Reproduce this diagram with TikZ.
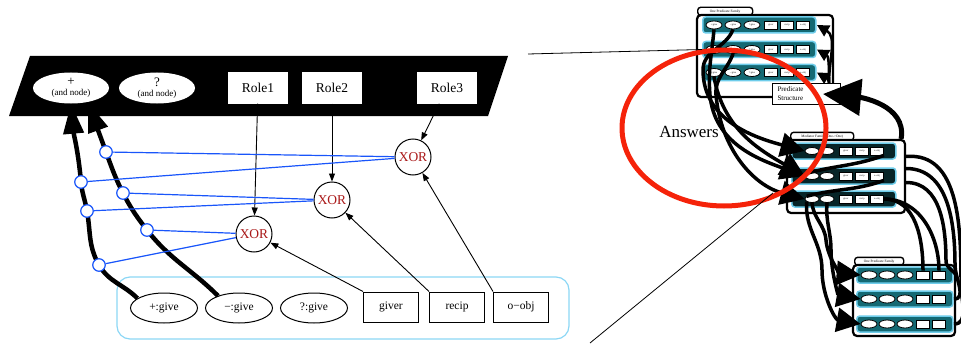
\documentclass[tikz,border=0pt]{standalone}
\usepackage{fontspec}
\setmainfont{Liberation Serif}
\usetikzlibrary{arrows.meta}
\usetikzlibrary{shapes.geometric}

\definecolor{xorred}{RGB}{170,25,25}
\definecolor{linkblue}{RGB}{25,85,250}
\definecolor{boxcyan}{RGB}{140,215,245}
\definecolor{famteal}{RGB}{20,105,115}
\definecolor{famedge}{RGB}{110,205,235}
\definecolor{ansred}{RGB}{245,35,10}

\tikzset{
	rolebox/.style={fill=white, minimum width=60pt, minimum height=31pt, inner sep=0pt, font=\fontsize{13.5}{15}\selectfont},
	andnode/.style={ellipse, fill=white, minimum width=76pt, minimum height=31pt, inner sep=0pt, align=center, font=\fontsize{13}{10}\selectfont},
	xornode/.style={circle, draw, line width=1pt, fill=white, minimum size=36pt, inner sep=0pt, text=xorred, font=\fontsize{13.5}{15}\selectfont},
	givenode/.style={ellipse, draw, line width=1pt, minimum width=67pt, minimum height=30pt, inner sep=0pt, font=\fontsize{11.5}{13}\selectfont},
	argbox/.style={draw, line width=1pt, minimum width=55pt, minimum height=30pt, inner sep=0pt, font=\fontsize{11.5}{13}\selectfont},
	hook/.style={circle, draw=linkblue, fill=white, line width=1.2pt, minimum size=12.5pt, inner sep=0pt},
	link/.style={draw=linkblue, line width=1.2pt},
	feed/.style={-{Triangle[length=8pt,width=6pt]}, line width=0.9pt},
	fat/.style={line width=4.5pt, -{Triangle[length=30pt,width=20pt]}},
	% overview on the right
	panel/.style={draw, fill=white, line width=2.2pt, rounded corners=4pt, inner sep=0pt},
	tab/.style={draw, fill=white, line width=1.4pt, rounded corners=3pt, inner sep=1pt, minimum height=8pt, font=\fontsize{3.5}{4}\selectfont},
	famrow/.style={draw=famedge, fill=famteal, line width=1.5pt, rounded corners=3pt, minimum height=16pt, inner sep=0pt},
	minell/.style={ellipse, draw, fill=white, line width=0.8pt, minimum width=16pt, minimum height=8pt, inner sep=0pt, font=\fontsize{2.5}{3}\selectfont},
	minbox/.style={draw, fill=white, line width=0.8pt, minimum width=13pt, minimum height=8pt, inner sep=0pt, font=\fontsize{2.5}{3}\selectfont},
	bigfat/.style={line width=3.5pt, -{Triangle[length=24pt,width=24pt]}},
	midfat/.style={line width=2.5pt, -{Triangle[length=12pt,width=12pt]}},
	hugefat/.style={line width=5pt, -{Triangle[length=38pt,width=36pt]}},
	fatline/.style={line width=3.5pt},
}

% one row of a family: [style] x, y, width, name
\newcommand{\famrow}[5][]{\node[famrow, #1, minimum width=#4pt, anchor=west] (#5) at (#2,#3) {};}

\begin{document}
\begin{tikzpicture}[x=1pt,y=1pt] % one unit is one pixel of the reference
	\useasboundingbox (0,0) rectangle (961,-345);

	% ---------- zoomed-in graph (left) ----------
	% black band with the and-nodes and the roles
	\fill (30,-56) -- (508,-56) -- (488,-116) -- (9,-116) -- cycle;
	\node[andnode] (plus) at (71,-88) {+\\{\fontsize{9}{9}\selectfont(and node)}};
	\node[andnode] (quest) at (157,-88) {?\\{\fontsize{9}{9}\selectfont(and node)}};
	\node[rolebox] (role1) at (258,-88) {Role1};
	\node[rolebox] (role2) at (332,-88) {Role2};
	\node[rolebox] (role3) at (447,-88) {Role3};

	% exclusive choices
	\node[xornode] (xor1) at (254,-234) {XOR};
	\node[xornode] (xor2) at (332,-200) {XOR};
	\node[xornode] (xor3) at (413,-157) {XOR};

	% the give family
	\draw[boxcyan, line width=1.2pt, rounded corners=13pt] (117,-277) rectangle (569,-339);
	\node[givenode] (pgive) at (164,-308) {+:give};
	\node[givenode] (mgive) at (239,-308) {−:give};
	\node[givenode] (qgive) at (314,-308) {?:give};
	\node[argbox] (giver) at (391,-307) {giver};
	\node[argbox] (recip) at (457,-307) {recip};
	\node[argbox] (oobj) at (521,-307) {o−obj};

	% roles and arguments feed the choices
	\draw[feed] (role1) -- (xor1);
	\draw[feed] (role2) -- (xor2);
	\draw[feed] (role3) -- (xor3);
	\draw[feed] (giver.north west) -- (xor1);
	\draw[feed] (recip.north west) -- (xor2);
	\draw[feed] (oobj.north west) -- (xor3);

	% where the hooks sit
	\coordinate (hk1) at (106,-152);
	\coordinate (hk2) at (81,-182);
	\coordinate (hk3) at (123,-193);
	\coordinate (hk4) at (87,-211);
	\coordinate (hk5) at (147,-230);
	\coordinate (hk6) at (99,-265);

	% the two support edges
	\draw[fat] (pgive.160) to[out=135,in=-60] (hk6) to[out=120,in=-80] (hk4) to[out=100,in=-85] (hk2) to[out=95,in=-85] (plus.south);
	\draw[fat] (mgive.150) to[out=135,in=-52] (hk5) to[out=128,in=-63] (hk3) to[out=117,in=-70] (hk1) to[out=110,in=-70] (plus.-40);

	\foreach \h in {1,...,6}
		\node[hook] (hook\h) at (hk\h) {};
	\draw[link] (hook1) -- (xor3);
	\draw[link] (hook2) -- (xor3);
	\draw[link] (hook3) -- (xor2);
	\draw[link] (hook4) -- (xor2);
	\draw[link] (hook5) -- (xor1);
	\draw[link] (hook6) -- (xor1);

	% ---------- overview (right) ----------
	% family 1
	\node[tab, minimum width=55pt, anchor=south west] (tab1) at (697,-16) {One Predicate Family};
	\node[panel, minimum width=136pt, minimum height=82pt] (fam1) at (765,-56) {};
	\foreach \r/\y in {1/-25,2/-49.5,3/-72.5}{
		\famrow{702}{\y}{113}{prow\r}
		\foreach \i/\ex/\lab in {1/714/+:give,2/733/−:give,3/752/?:give}
			\node[minell] (p\r-\i) at (\ex,\y) {\lab};
		\foreach \i/\ex/\lab in {4/771/giver,5/787/recip,6/803/o−obj}
			\node[minbox] (p\r-\i) at (\ex,\y) {\lab};
	}
	\node[draw, fill=white, line width=1pt, minimum width=68pt, minimum height=21pt, text width=58pt, align=left, anchor=north west, font=\fontsize{7}{9}\selectfont] (pstruct) at (772,-83) {Predicate\\Structure};

	% mediator family
	\node[tab, minimum width=63pt, anchor=south west] (tab2) at (790,-141) {Mediator Family (One->One)};
	\node[panel, minimum width=118pt, minimum height=73pt] (fam2) at (846,-176.5) {};
	\foreach \r/\y in {1/-151,2/-176,3/-199}{
		\famrow[fill=famteal!35!black]{791}{\y}{104}{mrow\r}
		\foreach \i/\ex in {1/812,2/827}
			\node[minell, minimum width=14pt, minimum height=7pt] (m\r-\i) at (\ex,\y) {};
		\foreach \i/\ex/\lab in {3/846/giver,4/862/recip,5/877/o−obj}
			\node[minbox] (m\r-\i) at (\ex,\y) {\lab};
	}

	% family 3
	\node[tab, minimum width=49pt, anchor=south west] (tab3) at (854,-266) {One Predicate Family};
	\node[panel, minimum width=102pt, minimum height=71pt] (fam3) at (904,-300.5) {};
	\foreach \r/\y in {1/-275,2/-299,3/-324}{
		\famrow{856}{\y}{96}{qrow\r}
		\foreach \i/\ex in {1/869,2/887,3/905}
			\node[minell] (q\r-\i) at (\ex,\y) {};
		\foreach \i/\ex in {4/923,5/939}
			\node[minbox] (q\r-\i) at (\ex,\y) {};
	}

	% family 1 down to the mediator rows
	\draw[bigfat] (p1-2.south) to[out=-110,in=90] (703,-70) to[out=-90,in=165] (m1-1.west);
	\draw[bigfat] (p1-1.south) to[out=-95,in=95] (710,-95) to[out=-85,in=160] (m2-1.west);
	\draw[bigfat] (p2-2.south) to[out=-110,in=95] (716,-95) to[out=-85,in=165] (m3-1.west);
	\draw[bigfat] (p3-1.south) to[out=-80,in=150] (m2-1.west);

	% structure back to the rows of family 1
	\foreach \r in {1,2,3}
		\draw[midfat] ([xshift=-12pt]pstruct.north east) to[out=90,in=-30] ([xshift=7pt]p\r-6.east);
	\draw[hugefat] ([xshift=-5pt]fam2.north east) to[out=80,in=-5] ([xshift=-18pt]pstruct.east);

	% inside the mediator
	\draw[fatline] (m1-5.south east) to[out=-160,in=15] (m2-1.north west);
	\draw[fatline] (m2-5.south east) to[out=-160,in=15] (m3-1.north west);

	% mediator down to family 3
	\draw[bigfat] (m3-1.south) to[out=-85,in=95] (826,-240) to[out=-85,in=175] (q1-1.west);
	\draw[bigfat] (m3-2.south) to[out=-95,in=90] (831,-250) to[out=-90,in=170] (q2-1.west);
	\draw[bigfat] (m3-1.south west) to[out=-95,in=90] (822,-270) to[out=-90,in=170] (q3-1.west);
	\draw[fatline] (m3-5.east) to[out=0,in=90] (q1-4.north);
	\draw[fatline] (m3-5.east) to[out=0,in=90] (q1-5.north);
	\draw[fatline] ([yshift=-6pt]fam2.east) to[out=0,in=90] (946,-262) to[out=-90,in=0] ([xshift=8pt]q1-5.east);
	\draw[fatline] ([yshift=8pt]fam2.east) to[out=0,in=90] (955,-265) to[out=-90,in=0] ([xshift=8pt]q2-5.east);
	\draw[fatline] ([yshift=20pt]fam2.east) to[out=5,in=90] (961,-285) to[out=-90,in=0] ([xshift=8pt]q3-5.east);

	% answers and the zoom lines
	\node[ellipse, draw=ansred, line width=5pt, minimum width=204pt, minimum height=156pt] (answers) at (724,-128) {};
	\node[font=\fontsize{17}{20}\selectfont] (anstext) at (689,-132) {Answers};
	\coordinate (zoomtop) at (528,-54);
	\coordinate (zoombot) at (590,-343);
	\coordinate (zoomend) at (773,-193);
	\draw[line width=0.8pt] (zoomtop) -- (prow2.west);
	\draw[line width=0.8pt] (zoombot) -- (zoomend);
\end{tikzpicture}
\end{document}
